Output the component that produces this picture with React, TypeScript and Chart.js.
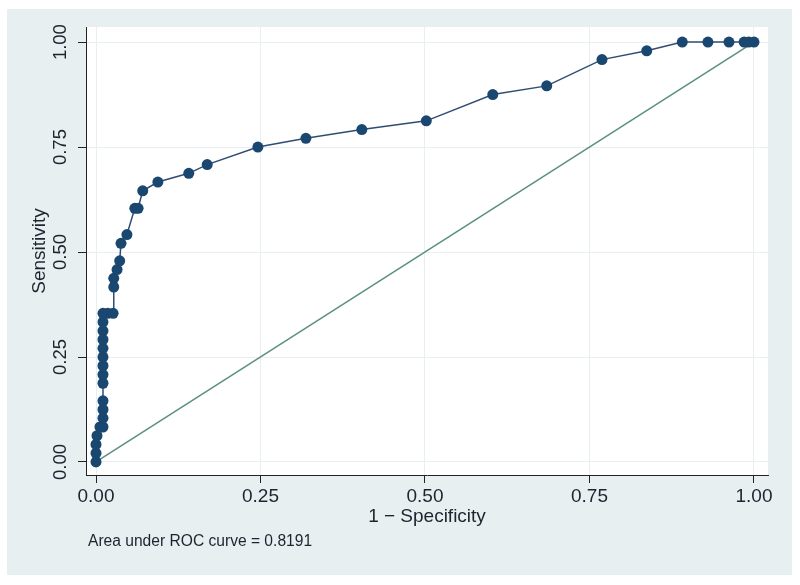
import React, { useEffect, useRef } from "react";
import { Chart, registerables } from "chart.js";

Chart.register(...registerables);

// 1 - Specificity (false positive rate) for each cut-off
const fpr = [
  0, 0, 0, 0.0015, 0.006, 0.0106, 0.0106, 0.0106, 0.0106, 0.0106,
  0.0106, 0.0106, 0.0106, 0.0106, 0.0106, 0.0106, 0.0106, 0.0106, 0.018, 0.026,
  0.027, 0.027, 0.032, 0.036, 0.038, 0.047, 0.059, 0.064, 0.071, 0.094,
  0.141, 0.169, 0.246, 0.319, 0.404, 0.502, 0.603, 0.685, 0.769, 0.837,
  0.891, 0.93, 0.962, 0.985, 0.992, 1,
];
// Sensitivity for each cut-off
const sensitivity = [
  0, 0.0208, 0.0417, 0.0625, 0.0833, 0.0833, 0.1042, 0.125, 0.1458, 0.1875,
  0.2083, 0.2292, 0.25, 0.2708, 0.2917, 0.3125, 0.3333, 0.3542, 0.3542, 0.3542,
  0.4167, 0.4375, 0.4583, 0.4792, 0.5208, 0.5417, 0.6042, 0.6042, 0.6458, 0.6667,
  0.6875, 0.7083, 0.75, 0.7708, 0.7917, 0.8125, 0.875, 0.8958, 0.9583, 0.9792,
  1, 1, 1, 1, 1, 1,
];
const refX = [0, 1];
const refY = [0, 1];
const tickValues = [0, 0.25, 0.5, 0.75, 1];
const tickLabels = ["0.00", "0.25", "0.50", "0.75", "1.00"];
const xTitle = "1 \u2212 Specificity";
const yTitle = "Sensitivity";
const note = "Area under ROC curve = 0.8191";

const FONT = "'Liberation Sans', Arial, Helvetica, sans-serif";
const TEXT = "#1e2330";
const NAVY = "#1a476f";

const bgPlugin = {
  id: "stataBg",
  beforeDraw(chart: any) {
    const { ctx, chartArea: ca } = chart;
    ctx.save();
    ctx.fillStyle = "#ffffff";
    ctx.fillRect(0, 0, chart.width, chart.height);
    ctx.fillStyle = "#e8eff0";
    ctx.fillRect(7, 9, 785, 566);
    ctx.fillStyle = "#ffffff";
    ctx.fillRect(ca.left, ca.top, ca.right - ca.left, ca.bottom - ca.top);
    ctx.restore();
  },
  afterDraw(chart: any) {
    const { ctx } = chart;
    const ys = chart.scales.y;
    ctx.save();
    ctx.fillStyle = TEXT;
    ctx.font = `18.5px ${FONT}`;
    ctx.textAlign = "center";
    ctx.textBaseline = "middle";
    tickValues.forEach((v, i) => {
      const py = ys.getPixelForValue(v);
      ctx.save();
      ctx.translate(61, py);
      ctx.rotate(-Math.PI / 2);
      ctx.fillText(tickLabels[i], 0, 0);
      ctx.restore();
    });
    ctx.font = `15.6px ${FONT}`;
    ctx.textAlign = "left";
    ctx.fillText(note, 88, 542);
    ctx.restore();
  },
};

export default function App() {
  const ref = useRef<HTMLCanvasElement | null>(null);

  useEffect(() => {
    document.body.style.margin = "0";
    const canvas = ref.current;
    if (!canvas) return;
    const rocPoints = fpr.map((x, i) => ({ x, y: sensitivity[i] }));
    const refPoints = refX.map((x, i) => ({ x, y: refY[i] }));

    const setTicks = (scale: any) => {
      scale.ticks = tickValues.map((v) => ({ value: v }));
    };

    const chart = new Chart(canvas, {
      type: "scatter",
      data: {
        datasets: [
          {
            data: rocPoints,
            showLine: true,
            borderColor: "#2f4d72",
            borderWidth: 1.5,
            pointRadius: 5.5,
            pointBackgroundColor: NAVY,
            pointBorderColor: NAVY,
            pointBorderWidth: 0,
          },
          {
            data: refPoints,
            showLine: true,
            borderColor: "#5a9080",
            borderWidth: 1.5,
            pointRadius: 0,
          },
        ],
      },
      plugins: [bgPlugin],
      options: {
        responsive: false,
        animation: false,
        events: [],
        layout: { padding: { left: 7, top: 27, right: 32, bottom: 0 } },
        plugins: { legend: { display: false }, tooltip: { enabled: false } },
        scales: {
          x: {
            type: "linear",
            min: -0.0152,
            max: 1.0213,
            afterBuildTicks: setTicks,
            afterFit: (s: any) => {
              s.height = 110;
            },
            grid: {
              color: "#e9eff1",
              lineWidth: 1,
              drawTicks: true,
              tickLength: 8,
              tickColor: "#222",
            },
            border: { display: true, color: "#222", width: 1 },
            ticks: {
              padding: 2,
              color: TEXT,
              font: { family: FONT, size: 19 },
              maxRotation: 0,
              callback: (v: any) => {
                const i = tickValues.indexOf(Number(v));
                return i >= 0 ? tickLabels[i] : "";
              },
            },
            title: {
              display: true,
              text: xTitle,
              color: TEXT,
              font: { family: FONT, size: 19 },
              padding: { top: 0, bottom: 57 },
            },
          },
          y: {
            type: "linear",
            min: -0.031,
            max: 1.036,
            afterBuildTicks: setTicks,
            afterFit: (s: any) => {
              s.width = 79;
            },
            grid: {
              color: "#e9eff1",
              lineWidth: 1,
              drawTicks: true,
              tickLength: 8,
              tickColor: "#222",
            },
            border: { display: true, color: "#222", width: 1 },
            ticks: { display: false },
            title: {
              display: true,
              text: yTitle,
              color: TEXT,
              font: { family: FONT, size: 19 },
              padding: { top: 21, bottom: 0 },
            },
          },
        },
      },
    });
    return () => chart.destroy();
  }, []);

  return (
    <div style={{ width: 800, height: 585 }}>
      <canvas ref={ref} width={800} height={585} style={{ display: "block" }} />
    </div>
  );
}
